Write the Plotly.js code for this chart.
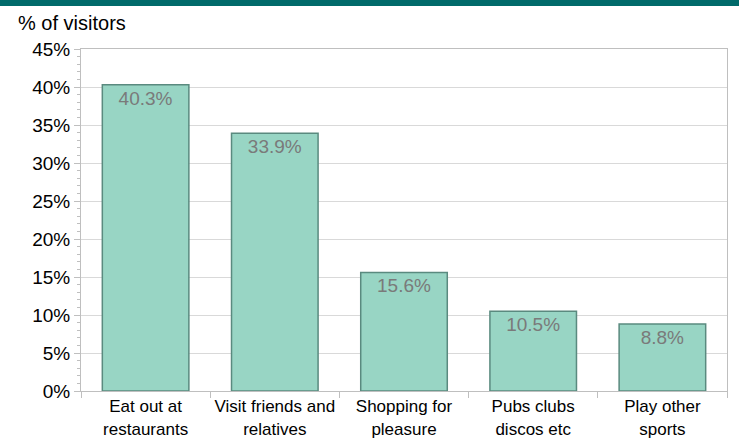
<!DOCTYPE html>
<html><head><meta charset="utf-8">
<script src="https://cdn.plot.ly/plotly-3.0.1.min.js"></script>
<style>html,body{margin:0;padding:0;background:#fff}#chart{width:739px;height:439px}</style>
</head><body><div id="chart"></div>
<script>
const categories = ["Eat out at<br>restaurants", "Visit friends and<br>relatives", "Shopping for<br>pleasure", "Pubs clubs<br>discos etc", "Play other<br>sports"];
const values = [0.403, 0.339, 0.156, 0.105, 0.088];
const labels = ["40.3%", "33.9%", "15.6%", "10.5%", "8.8%"];

const trace = {
  type: "bar", x: categories, y: values, text: labels,
  textposition: "inside", insidetextanchor: "end",
  textfont: {family: "Liberation Sans, Arial, sans-serif", size: 19, color: "#7a7a7a"},
  marker: {color: "#98d5c4", line: {color: "#5a8a7f", width: 1.5}},
  width: 0.67, hoverinfo: "none", cliponaxis: false
};
const layout = {
  width: 739, height: 439,
  margin: {l: 81, r: 12, t: 49, b: 48},
  paper_bgcolor: "#fff", plot_bgcolor: "#fff",
  showlegend: false,
  font: {family: "Liberation Sans, Arial, sans-serif", size: 17, color: "#000"},
  xaxis: {
    type: "category", tickson: "boundaries", ticks: "outside", ticklen: 6, tickcolor: "#bfbfbf",
    showline: true, linecolor: "#bfbfbf", linewidth: 1, mirror: true, tickangle: 0,
    tickfont: {size: 17}, showgrid: false, automargin: false
  },
  yaxis: {
    range: [0, 0.45], dtick: 0.05, tickformat: ".0%",
    ticks: "outside", ticklen: 6, tickcolor: "#bfbfbf",
    showline: true, linecolor: "#bfbfbf", linewidth: 1, mirror: true,
    gridcolor: "#d9d9d9", gridwidth: 1, zeroline: false,
    minor: {dtick: 0.01, ticks: "outside", ticklen: 3, tickcolor: "#bfbfbf", showgrid: false},
    tickfont: {size: 19}, automargin: false
  },
  shapes: [{type: "rect", xref: "paper", yref: "paper", x0: -0.2, x1: 1.1, y0: 1.126, y1: 1.2, fillcolor: "#006a6a", line: {width: 0}}],
  annotations: [{text: "% of visitors", xref: "paper", yref: "paper", x: -0.1, y: 1.114, xanchor: "left", yanchor: "top", showarrow: false, font: {size: 20, color: "#000"}}]
};
Plotly.newPlot("chart", [trace], layout, {displayModeBar: false, staticPlot: true});
</script></body></html>
